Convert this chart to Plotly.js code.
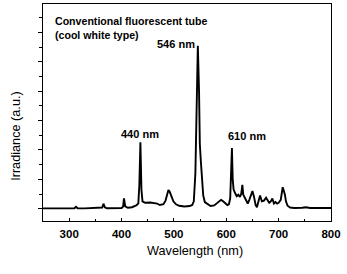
<!DOCTYPE html>
<html>
<head>
<meta charset="utf-8">
<script src="https://cdn.plot.ly/plotly-3.0.1.min.js"></script>
<style>
  html, body { margin: 0; padding: 0; background: #fff; }
  #chart { width: 347px; height: 274px; }
</style>
</head>
<body>
<div id="chart"></div>
<script>
// Emission spectrum of a cool white fluorescent tube
const wavelength = [
  250, 300, 310, 313, 316, 330, 360, 363, 365.5, 368, 372,
  400, 403, 404.7, 407, 412, 420, 428, 432, 434, 436, 438, 440,
  445, 455, 462, 468, 473, 480, 484, 487, 489.5, 492, 495, 499,
  504, 510, 520, 530, 535, 538, 541, 543.5, 545.7, 548, 549.5,
  551.5, 553.5, 556, 559, 564, 570, 577, 582, 586, 590, 594, 598,
  602, 605, 607.5, 609.5, 610.8, 612.3, 614, 617, 620, 623, 626,
  628.5, 630.7, 632.5, 635, 638, 641, 644, 647, 650, 653, 656,
  658.5, 661.5, 664.5, 668, 672, 676, 679, 682, 685, 688, 691,
  694, 697, 700, 704, 707.8, 710, 712, 714, 717, 722, 730, 745,
  752, 760, 800
];
const irradiance = [
  0.02, 0.02, 0.03, 0.13, 0.03, 0.02, 0.03, 0.08, 0.34, 0.1, 0.03,
  0.04, 0.15, 0.7, 0.15, 0.06, 0.1, 0.22, 0.35, 1.6, 4.53, 1.3, 0.5,
  0.4, 0.42, 0.38, 0.35, 0.25, 0.3, 0.55, 0.9, 1.27, 1.15, 0.85, 0.5,
  0.3, 0.2, 0.15, 0.18, 0.25, 0.5, 2.4, 7.3, 11.1, 8.0, 4.4,
  3.2, 2.2, 0.9, 0.45, 0.3, 0.18, 0.22, 0.35, 0.5, 0.6, 0.5, 0.35,
  0.25, 0.3, 0.7, 2.8, 4.14, 2.0, 1.3, 1.05, 0.85, 0.95, 0.8,
  1.0, 1.62, 0.95, 0.75, 0.6, 0.35, 0.6, 0.95, 1.2, 0.8, 0.25,
  0.1, 0.55, 0.9, 0.5, 0.55, 0.75, 0.55, 0.4, 0.5, 0.7, 0.35,
  0.45, 0.35, 0.4, 0.6, 1.46, 1.2, 0.95, 0.5, 0.2, 0.08, 0.05, 0.06,
  0.1, 0.05, 0.05
];

// Labelled emission lines
const peakLabels = ["440 nm", "546 nm", "610 nm"];
const peakLabelX = [435.3, 503.5, 639];
const peakLabelY = [5.12, 11.2, 4.97];

const titleLines = ["Conventional fluorescent tube", "(cool white type)"];
const xTitle = "Wavelength (nm)";
const yTitle = "Irradiance (a.u.)";

const font = "Liberation Sans, Arial, sans-serif";

const trace = {
  x: wavelength,
  y: irradiance,
  type: "scatter",
  mode: "lines",
  line: { color: "#000", width: 1.9 },
  hoverinfo: "skip"
};

const annotations = peakLabels.map((t, i) => ({
  text: "<b>" + t + "</b>",
  x: peakLabelX[i], y: peakLabelY[i],
  xref: "x", yref: "y",
  xanchor: "center", yanchor: "middle",
  showarrow: false,
  font: { family: font, size: 11, color: "#000" }
}));

annotations.push({
  text: "<b>" + titleLines.join("<br>") + "</b>",
  x: 0.034, y: 0.96,
  xref: "paper", yref: "paper",
  xanchor: "left", yanchor: "top",
  align: "left",
  showarrow: false,
  font: { family: font, size: 10.6, color: "#000" }
});

annotations.push({
  text: xTitle,
  x: 0.528, y: -0.137,
  xref: "paper", yref: "paper",
  xanchor: "center", yanchor: "middle",
  showarrow: false,
  font: { family: font, size: 12.7, color: "#000" }
});

annotations.push({
  text: yTitle,
  x: -0.094, y: 0.392,
  xref: "paper", yref: "paper",
  xanchor: "center", yanchor: "middle",
  textangle: -90,
  showarrow: false,
  font: { family: font, size: 12.7, color: "#000" }
});

const layout = {
  width: 347,
  height: 274,
  margin: { l: 43, r: 16, t: 4, b: 53 },
  paper_bgcolor: "#fff",
  plot_bgcolor: "#fff",
  showlegend: false,
  xaxis: {
    range: [250, 800],
    tick0: 300,
    dtick: 100,
    ticks: "inside",
    ticklen: 3,
    tickwidth: 1,
    tickcolor: "#000",
    ticklabelstandoff: 2,
    minor: { dtick: 50, ticks: "inside", ticklen: 2, tickcolor: "#000" },
    showline: true,
    linecolor: "#000",
    linewidth: 1.2,
    mirror: true,
    showgrid: false,
    zeroline: false,
    tickfont: { family: font, size: 11.5, color: "#000", weight: "bold" }
  },
  yaxis: {
    range: [-0.84, 13.95],
    tick0: 0,
    dtick: 2,
    ticks: "outside",
    ticklen: 4,
    tickwidth: 1,
    tickcolor: "#000",
    minor: { dtick: 1, ticks: "outside", ticklen: 3, tickcolor: "#000" },
    showticklabels: false,
    showline: true,
    linecolor: "#000",
    linewidth: 1.2,
    mirror: true,
    showgrid: false,
    zeroline: false
  },
  annotations: annotations
};

Plotly.newPlot("chart", [trace], layout, { staticPlot: true, displayModeBar: false });
</script>
</body>
</html>
